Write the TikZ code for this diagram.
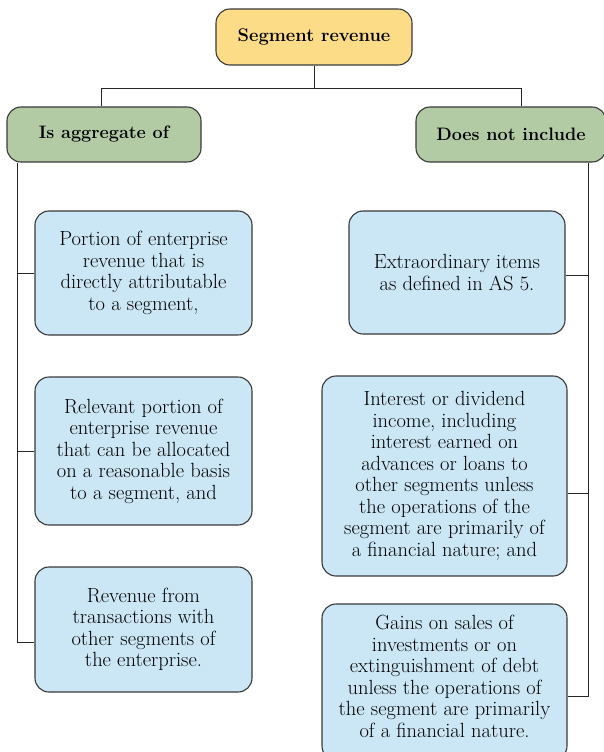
\documentclass[tikz,border=0pt]{standalone}
\usetikzlibrary{calc}
\definecolor{topfill}{HTML}{FDDC87}
\definecolor{headfill}{HTML}{B2CBA4}
\definecolor{boxfill}{HTML}{CBE6F4}
\definecolor{edge}{HTML}{3A3A3A}
\begin{document}
\begin{tikzpicture}[x=1pt,y=-1pt,
  base/.style={draw=edge,line width=1.1pt,rounded corners=14pt,align=center,inner sep=0pt},
  topbox/.style={base,fill=topfill,font=\fontsize{18.3}{21}\selectfont\bfseries},
  headbox/.style={base,fill=headfill,font=\fontsize{18}{21}\selectfont\bfseries},
  itembox/.style={base,fill=boxfill,font=\fontsize{20.5}{21.5}\selectfont},
  conn/.style={draw=black!85,line width=1pt}]
\useasboundingbox (0,0) rectangle (604,752);
\clip (0,0) rectangle (604,752);
\fill[white] (0,0) rectangle (604,752);
% header nodes
\node[topbox,minimum width=196pt,minimum height=56pt] (T) at (314,37) {Segment revenue};
\node[headbox,minimum width=194pt,minimum height=55pt] (LH) at (104,134.5) {Is aggregate of};
\node[headbox,minimum width=190pt,minimum height=55pt] (RH) at (511,134.5) {Does not include};
% left items
\node[itembox,minimum width=217pt,minimum height=124pt] (L1) at (143.5,273) {Portion of enterprise\\revenue that is\\directly attributable\\to a segment,};
\node[itembox,minimum width=217pt,minimum height=148pt] (L2) at (143.5,451) {Relevant portion of\\enterprise revenue\\that can be allocated\\on a reasonable basis\\to a segment, and};
\node[itembox,minimum width=217pt,minimum height=125pt] (L3) at (143.5,629.5) {Revenue from\\transactions with\\other segments of\\the enterprise.};
% right items
\node[itembox,minimum width=216pt,minimum height=123pt] (R1) at (457,272.5) {Extraordinary items\\as defined in AS 5.};
\node[itembox,minimum width=245pt,minimum height=200pt] (R2) at (444.5,476) {Interest or dividend\\income, including\\interest earned on\\advances or loans to\\other segments unless\\the operations of the\\segment are primarily of\\a financial nature; and};
\node[itembox,minimum width=245pt,minimum height=156pt] (R3) at (444.5,682) {Gains on sales of\\investments or on\\extinguishment of debt\\unless the operations of\\the segment are primarily\\of a financial nature.\\[-10pt]\mbox{}};
% connector coordinates
\coordinate (jl) at (101,88);
\coordinate (jr) at (521,88);
\coordinate (lsp) at (17.5,0);
\coordinate (rsp) at (588,0);
\coordinate (b3) at ([yshift=-12.5pt]L3.west);
\coordinate (r1) at ([yshift=-2.5pt]R1.east);
\coordinate (r2) at ([yshift=-17pt]R2.east);
\coordinate (r3) at ([yshift=-14pt]R3.east);
% top connectors
\draw[conn] (T.south) -- (T.south |- jl);
\draw[conn] (LH.north -| jl) |- (jr) -- (RH.north -| jr);
% left spine
\draw[conn] (LH.south -| lsp) |- (b3);
\draw[conn] (L1.west) -- (L1.west -| lsp);
\draw[conn] (L2.west) -- (L2.west -| lsp);
% right spine
\draw[conn] (RH.south -| rsp) |- (r3);
\draw[conn] (r1) -- (r1 -| rsp);
\draw[conn] (r2) -- (r2 -| rsp);
\end{tikzpicture}
\end{document}
